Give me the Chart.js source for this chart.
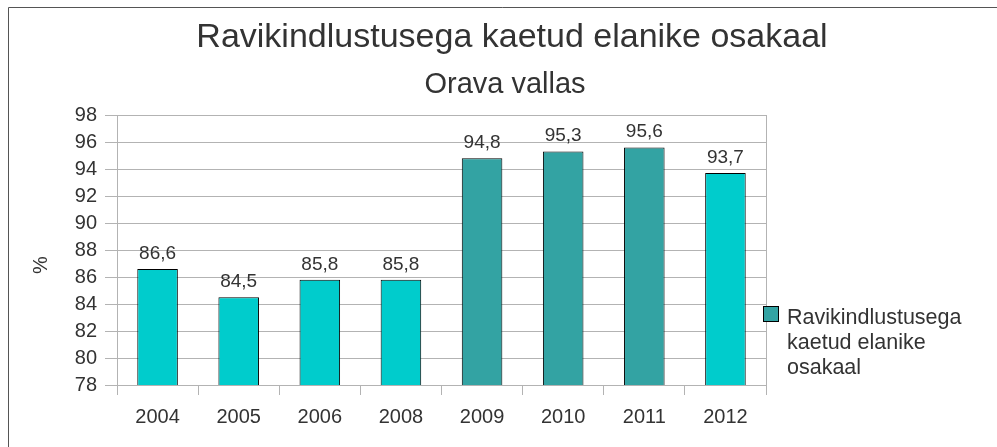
<!DOCTYPE html>
<html>
<head>
<meta charset="utf-8">
<title>Ravikindlustusega kaetud elanike osakaal</title>
<script src="https://cdn.jsdelivr.net/npm/chart.js@4.4.1/dist/chart.umd.min.js"></script>
<style>
  body { margin: 0; background: #fff; }
  canvas { display: block; }
</style>
</head>
<body>
<canvas id="chart" width="997" height="447"></canvas>
<script>
// chart data
var years = ['2004', '2005', '2006', '2008', '2009', '2010', '2011', '2012'];
var shares = [86.6, 84.5, 85.8, 85.8, 94.8, 95.3, 95.6, 93.7];
var barColors = ['#00cccc', '#00cccc', '#00cccc', '#00cccc', '#33a3a3', '#33a3a3', '#33a3a3', '#00cccc'];
var seriesName = 'Ravikindlustusega kaetud elanike osakaal';
var legendLines = ['Ravikindlustusega', 'kaetud elanike', 'osakaal'];
var titleText = 'Ravikindlustusega kaetud elanike osakaal';
var subtitleText = 'Orava vallas';
var yAxisLabel = '%';
var yMin = 78, yMax = 98, yStep = 2;

var FONT = '"Liberation Sans", Arial, sans-serif';
var TEXT = '#333333';
var GRID = '#b3b3b3';

// frame, titles, axis label and legend drawn around the chart
var decorations = {
  id: 'decorations',
  beforeDraw: function (chart) {
    var ctx = chart.ctx;
    ctx.save();
    ctx.fillStyle = '#ffffff';
    ctx.fillRect(0, 0, chart.width, chart.height);
    ctx.strokeStyle = '#555555';
    ctx.lineWidth = 1;
    ctx.beginPath();
    ctx.moveTo(8.5, chart.height);
    ctx.lineTo(8.5, 7.5);
    ctx.lineTo(chart.width, 7.5);
    ctx.stroke();
    ctx.restore();
  },
  afterDraw: function (chart) {
    var ctx = chart.ctx;
    ctx.save();
    ctx.fillStyle = TEXT;
    ctx.textAlign = 'center';
    ctx.textBaseline = 'alphabetic';
    ctx.font = '34px ' + FONT;
    ctx.fillText(titleText, 512, 47);
    ctx.font = '29px ' + FONT;
    ctx.fillText(subtitleText, 505, 93);

    // y axis label, rotated
    ctx.save();
    ctx.translate(41, 265);
    ctx.rotate(-Math.PI / 2);
    ctx.textBaseline = 'middle';
    ctx.font = '20px ' + FONT;
    ctx.fillText(yAxisLabel, 0, 0);
    ctx.restore();

    // legend
    ctx.fillStyle = barColors[4];
    ctx.fillRect(763.5, 306.5, 15, 15);
    ctx.strokeStyle = '#000000';
    ctx.lineWidth = 1;
    ctx.strokeRect(763.5, 306.5, 15, 15);
    ctx.fillStyle = TEXT;
    ctx.textAlign = 'left';
    ctx.font = '21.5px ' + FONT;
    legendLines.forEach(function (line, i) {
      ctx.fillText(line, 787, 324 + i * 25);
    });
    ctx.restore();
  }
};

// value labels above the bars
var valueLabels = {
  id: 'valueLabels',
  afterDatasetsDraw: function (chart) {
    var ctx = chart.ctx;
    var meta = chart.getDatasetMeta(0);
    ctx.save();
    ctx.fillStyle = TEXT;
    ctx.font = '19px ' + FONT;
    ctx.textAlign = 'center';
    ctx.textBaseline = 'alphabetic';
    meta.data.forEach(function (bar, i) {
      var txt = shares[i].toFixed(1).replace('.', ',');
      ctx.fillText(txt, bar.x, bar.y - 10);
    });
    ctx.restore();
  }
};

var ctx = document.getElementById('chart').getContext('2d');
var chart = new Chart(ctx, {
  type: 'bar',
  data: {
    labels: years,
    datasets: [{
      label: seriesName,
      data: shares,
      backgroundColor: barColors,
      borderColor: '#000000',
      borderWidth: 1,
      borderSkipped: false,
      barPercentage: 0.5,
      categoryPercentage: 1
    }]
  },
  options: {
    responsive: false,
    animation: false,
    devicePixelRatio: 1,
    layout: { padding: { left: 0, top: 115, right: 231, bottom: 0 } },
    plugins: {
      legend: { display: false },
      title: { display: false },
      tooltip: { enabled: false }
    },
    scales: {
      x: {
        offset: true,
        grid: {
          offset: true,
          tickLength: 10,
          color: function (c) {
            return (c.type === 'scale' || c.index === 0) ? GRID : 'rgba(0,0,0,0)';
          },
          tickColor: GRID
        },
        border: { color: GRID },
        ticks: { color: TEXT, font: { family: FONT, size: 20 }, padding: 10 },
        afterFit: function (scale) { scale.height = 62; }
      },
      y: {
        min: yMin,
        max: yMax,
        grid: { color: GRID, tickLength: 12 },
        border: { color: GRID },
        ticks: { stepSize: yStep, color: TEXT, font: { family: FONT, size: 20 }, padding: 8 },
        afterFit: function (scale) { scale.width = 117; }
      }
    }
  },
  plugins: [decorations, valueLabels]
});
</script>
</body>
</html>
